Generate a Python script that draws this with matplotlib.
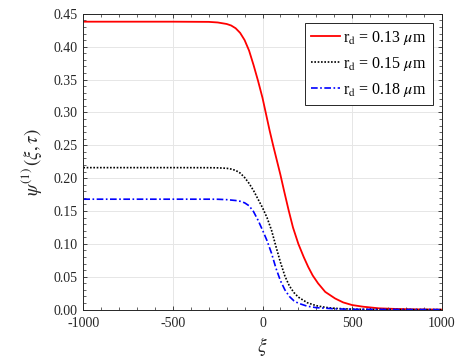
import matplotlib
matplotlib.use("Agg")
import matplotlib.pyplot as plt
from matplotlib.ticker import MultipleLocator, FormatStrFormatter

plt.rcParams['font.family'] = ['Liberation Serif', 'DejaVu Serif']
plt.rcParams['mathtext.fontset'] = 'stix'
plt.rcParams['axes.unicode_minus'] = False

# Values
xi_red = [-1000, -500, -300, -250, -200, -175, -150, -125, -100, -75, -50, -25, 0, 20, 40, 60, 80, 100, 120,
          145, 170, 200, 230, 255, 280, 310, 350, 405, 450, 500, 560, 650, 750, 850, 1000]
psi_red = [0.438, 0.438, 0.4377, 0.4368, 0.4345, 0.4322, 0.428, 0.421, 0.410, 0.394, 0.372, 0.348, 0.322, 0.297,
           0.272, 0.249, 0.227, 0.205, 0.181, 0.152, 0.125, 0.100, 0.080, 0.065, 0.052, 0.040, 0.027, 0.017,
           0.011, 0.007, 0.0045, 0.002, 0.001, 0.0004, 0.0]

xi_black = [-1000, -500, -300, -250, -200, -175, -150, -125, -100, -75, -50, -25, 0, 25, 50, 75, 100, 125,
            150, 175, 200, 250, 300, 350, 400, 500, 650, 1000]
psi_black = [0.216, 0.216, 0.2159, 0.2157, 0.2150, 0.2138, 0.2118, 0.2078, 0.201, 0.192, 0.181, 0.168, 0.155,
             0.140, 0.121, 0.096, 0.072, 0.051, 0.036, 0.026, 0.019, 0.0105, 0.006, 0.0035, 0.002, 0.0007,
             0.0002, 0.0]

xi_blue = [-1000, -500, -300, -250, -200, -150, -125, -100, -75, -50, -25, 0, 25, 50, 75, 100, 125, 150,
           175, 200, 250, 300, 400, 500, 1000]
psi_blue = [0.168, 0.168, 0.168, 0.1679, 0.1673, 0.166, 0.1648, 0.1625, 0.158, 0.149, 0.136, 0.121, 0.105,
            0.086, 0.063, 0.044, 0.030, 0.020, 0.0135, 0.0097, 0.0052, 0.003, 0.0013, 0.0005, 0.0]

labels = [r'r$_\mathrm{d}$ = 0.13 $\mu$m', r'r$_\mathrm{d}$ = 0.15 $\mu$m', r'r$_\mathrm{d}$ = 0.18 $\mu$m']

fig = plt.figure(figsize=(4.63, 3.63), dpi=100)
ax = fig.add_axes([0.180, 0.147, 0.774, 0.815])

ax.plot(xi_red, psi_red, color='#ff0000', lw=1.3, ls='-', label=labels[0])
ax.plot(xi_black, psi_black, color='black', lw=1.2, ls=(0, (1, 1)), label=labels[1])
ax.plot(xi_blue, psi_blue, color='#0000ff', lw=1.2, ls=(0, (4, 1.5, 1, 1.5)), label=labels[2])

ax.set_xlim(-1000, 1000)
ax.set_ylim(0, 0.45)
ax.xaxis.set_major_locator(MultipleLocator(500))
ax.xaxis.set_minor_locator(MultipleLocator(100))
ax.yaxis.set_major_locator(MultipleLocator(0.05))
ax.yaxis.set_minor_locator(MultipleLocator(0.01))
ax.yaxis.set_major_formatter(FormatStrFormatter('%.2f'))

ax.tick_params(which='both', direction='in', top=True, right=True, colors='#262626', labelsize=10)
ax.tick_params(which='major', length=3, width=0.6)
ax.tick_params(which='minor', length=2, width=0.5)
ax.tick_params(axis='x', which='major', pad=5)
ax.tick_params(axis='y', which='major', pad=4)
for s in ax.spines.values():
    s.set_color('#262626')
    s.set_linewidth(0.7)

ax.grid(True, which='major', color='#e6e6e6', lw=0.7)
ax.set_axisbelow(True)

ax.set_xlabel(r'$\xi$', fontsize=14, color='#262626', labelpad=4)
ax.set_ylabel(r'$\psi^{(1)}\,(\xi,\tau)$', fontsize=13.5, color='#262626', labelpad=7)

leg = ax.legend(loc='upper right', fontsize=11.5, fancybox=False, edgecolor='#262626',
                handlelength=1.8, handletextpad=0.2, borderpad=0.4, labelspacing=0.5,
                borderaxespad=0.55, framealpha=1)
leg.get_frame().set_linewidth(0.7)

fig.savefig('out.png', dpi=100)
